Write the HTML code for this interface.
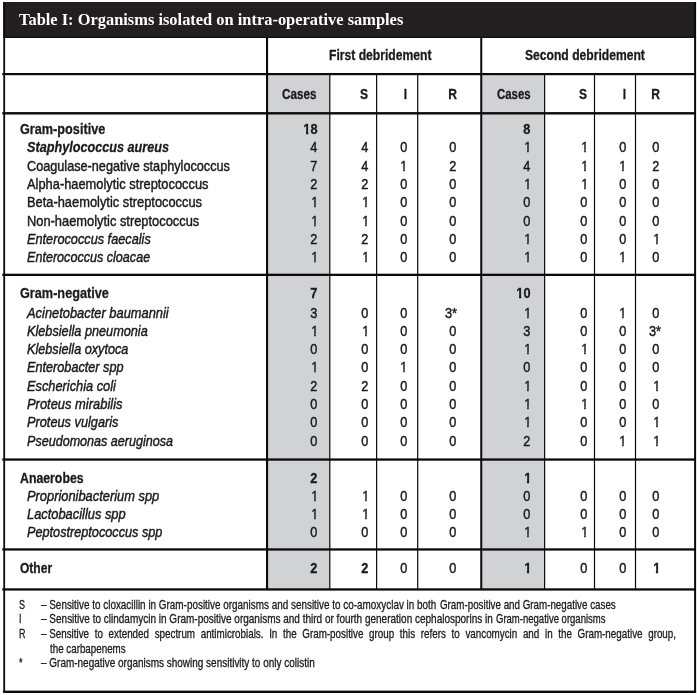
<!DOCTYPE html>
<html><head><meta charset="utf-8"><title>Table I</title>
<style>
html,body{margin:0;padding:0;background:#fff}
#p{position:relative;width:697px;height:695px;overflow:hidden;background:#fff;font-family:"Liberation Sans",sans-serif;color:#1c191a}
.r{position:absolute}
.t{position:absolute;white-space:pre;display:block;-webkit-text-stroke:0.45px}
.o1,.o1b{display:inline-block;line-height:16px;height:16px;vertical-align:top}
.o1{clip-path:polygon(-1.00px -1.00px,9.23px -1.00px,9.23px 11.00px,5.28px 11.00px,5.28px 17.00px,3.47px 17.00px,3.47px 11.00px,-1.00px 11.00px)}
.o1b{clip-path:polygon(-1.00px -1.00px,9.23px -1.00px,9.23px 11.00px,5.73px 11.00px,5.73px 17.00px,3.20px 17.00px,3.20px 11.00px,-1.00px 11.00px)}
.b{font-weight:bold;-webkit-text-stroke:0.3px}.i{font-style:italic}
.sb{font-family:"Liberation Serif",serif;font-weight:bold;-webkit-text-stroke:0}
</style></head><body><div id="p">
<svg class="r" style="left:0;top:0" width="697" height="695" viewBox="0 0 697 695">
<rect x="3.20" y="2.00" width="692.80" height="35.80" fill="#231f20"/>
<rect x="3.20" y="36.80" width="692.90" height="1.10" fill="#0c0a0b"/>
<rect x="3.30" y="2.00" width="1.80" height="690.50" fill="#0c0a0b"/>
<rect x="694.10" y="2.00" width="2.00" height="690.50" fill="#0c0a0b"/>
<rect x="3.20" y="690.60" width="692.90" height="2.40" fill="#0c0a0b"/>
<rect x="267.00" y="74.00" width="62.60" height="516.00" fill="#d1d2d4"/>
<rect x="482.00" y="74.00" width="62.40" height="516.00" fill="#d1d2d4"/>
<rect x="266.20" y="73.00" width="429.80" height="2.20" fill="#0c0a0b"/>
<rect x="2.30" y="112.10" width="693.70" height="2.40" fill="#0c0a0b"/>
<rect x="2.30" y="273.70" width="693.70" height="2.30" fill="#0c0a0b"/>
<rect x="2.30" y="458.40" width="693.70" height="2.30" fill="#0c0a0b"/>
<rect x="2.30" y="548.30" width="693.70" height="2.30" fill="#0c0a0b"/>
<rect x="2.30" y="588.30" width="693.70" height="2.30" fill="#0c0a0b"/>
<rect x="2.30" y="73.00" width="265.00" height="2.20" fill="#0c0a0b"/>
<rect x="266.00" y="37.00" width="2.10" height="552.00" fill="#0c0a0b"/>
<rect x="480.25" y="37.00" width="2.00" height="552.00" fill="#0c0a0b"/>
<rect x="329.20" y="74.00" width="1.20" height="515.00" fill="#0c0a0b"/>
<rect x="376.00" y="74.00" width="1.20" height="515.00" fill="#0c0a0b"/>
<rect x="417.10" y="74.00" width="1.20" height="515.00" fill="#0c0a0b"/>
<rect x="544.00" y="74.00" width="1.20" height="515.00" fill="#0c0a0b"/>
<rect x="593.90" y="74.00" width="1.20" height="515.00" fill="#0c0a0b"/>
<rect x="634.90" y="74.00" width="1.20" height="515.00" fill="#0c0a0b"/>
</svg>
<span class="t sb" style="left:19.00px;top:10.00px;font-size:16.6px;line-height:19px;height:19px;color:#fff;transform:scaleX(0.9893);transform-origin:0 0">Table I: Organisms isolated on intra-operative samples</span>
<span class="t b" style="left:329.00px;top:46.00px;font-size:15.1px;line-height:17px;height:17px;transform:scaleX(0.8045);transform-origin:0 0">First debridement</span>
<span class="t b" style="left:524.50px;top:46.00px;font-size:15.1px;line-height:17px;height:17px;transform:scaleX(0.8028);transform-origin:0 0">Second debridement</span>
<span class="t b" style="left:282.40px;top:85.00px;font-size:15.1px;line-height:17px;height:17px;transform:scaleX(0.7731);transform-origin:0 0">Cases</span>
<span class="t b" style="left:496.70px;top:85.00px;font-size:15.1px;line-height:17px;height:17px;transform:scaleX(0.7551);transform-origin:0 0">Cases</span>
<span class="t b" style="right:328.60px;top:85.00px;font-size:15.1px;line-height:17px;height:17px;transform:scaleX(0.8000);transform-origin:100% 0">S</span>
<span class="t b" style="right:289.80px;top:85.00px;font-size:15.1px;line-height:17px;height:17px;transform:scaleX(0.8000);transform-origin:100% 0">I</span>
<span class="t b" style="right:240.50px;top:85.00px;font-size:15.1px;line-height:17px;height:17px;transform:scaleX(0.8000);transform-origin:100% 0">R</span>
<span class="t b" style="right:109.60px;top:85.00px;font-size:15.1px;line-height:17px;height:17px;transform:scaleX(0.8000);transform-origin:100% 0">S</span>
<span class="t b" style="right:71.00px;top:85.00px;font-size:15.1px;line-height:17px;height:17px;transform:scaleX(0.8000);transform-origin:100% 0">I</span>
<span class="t b" style="right:37.60px;top:85.00px;font-size:15.1px;line-height:17px;height:17px;transform:scaleX(0.8000);transform-origin:100% 0">R</span>
<span class="t b" style="left:19.70px;top:120.00px;font-size:15.1px;line-height:17px;height:17px;transform:scaleX(0.8401);transform-origin:0 0">Gram-positive</span>
<span class="t b" style="right:379.70px;top:121.00px;font-size:14.8px;line-height:16px;height:16px;transform:scaleX(0.8600);transform-origin:100% 0"><span class="o1b">1</span>8</span>
<span class="t b" style="right:166.50px;top:121.00px;font-size:14.8px;line-height:16px;height:16px;transform:scaleX(0.8600);transform-origin:100% 0">8</span>
<span class="t b i" style="left:27.20px;top:138.00px;font-size:15.1px;line-height:17px;height:17px;transform:scaleX(0.8383);transform-origin:0 0">Staphylococcus aureus</span>
<span class="t" style="right:379.70px;top:139.00px;font-size:14.8px;line-height:16px;height:16px;transform:scaleX(0.8600);transform-origin:100% 0">4</span>
<span class="t" style="right:328.50px;top:139.00px;font-size:14.8px;line-height:16px;height:16px;transform:scaleX(0.8600);transform-origin:100% 0">4</span>
<span class="t" style="right:290.10px;top:139.00px;font-size:14.8px;line-height:16px;height:16px;transform:scaleX(0.8600);transform-origin:100% 0">0</span>
<span class="t" style="right:241.00px;top:139.00px;font-size:14.8px;line-height:16px;height:16px;transform:scaleX(0.8600);transform-origin:100% 0">0</span>
<span class="t" style="right:165.90px;top:139.00px;font-size:14.8px;line-height:16px;height:16px;transform:scaleX(0.8600);transform-origin:100% 0"><span class="o1">1</span></span>
<span class="t" style="right:109.00px;top:139.00px;font-size:14.8px;line-height:16px;height:16px;transform:scaleX(0.8600);transform-origin:100% 0"><span class="o1">1</span></span>
<span class="t" style="right:71.20px;top:139.00px;font-size:14.8px;line-height:16px;height:16px;transform:scaleX(0.8600);transform-origin:100% 0">0</span>
<span class="t" style="right:37.30px;top:139.00px;font-size:14.8px;line-height:16px;height:16px;transform:scaleX(0.8600);transform-origin:100% 0">0</span>
<span class="t" style="left:27.20px;top:157.00px;font-size:15.1px;line-height:17px;height:17px;transform:scaleX(0.8397);transform-origin:0 0">Coagulase-negative staphylococcus</span>
<span class="t" style="right:379.70px;top:158.00px;font-size:14.8px;line-height:16px;height:16px;transform:scaleX(0.8600);transform-origin:100% 0">7</span>
<span class="t" style="right:328.50px;top:158.00px;font-size:14.8px;line-height:16px;height:16px;transform:scaleX(0.8600);transform-origin:100% 0">4</span>
<span class="t" style="right:289.50px;top:158.00px;font-size:14.8px;line-height:16px;height:16px;transform:scaleX(0.8600);transform-origin:100% 0"><span class="o1">1</span></span>
<span class="t" style="right:241.00px;top:158.00px;font-size:14.8px;line-height:16px;height:16px;transform:scaleX(0.8600);transform-origin:100% 0">2</span>
<span class="t" style="right:166.50px;top:158.00px;font-size:14.8px;line-height:16px;height:16px;transform:scaleX(0.8600);transform-origin:100% 0">4</span>
<span class="t" style="right:109.00px;top:158.00px;font-size:14.8px;line-height:16px;height:16px;transform:scaleX(0.8600);transform-origin:100% 0"><span class="o1">1</span></span>
<span class="t" style="right:70.60px;top:158.00px;font-size:14.8px;line-height:16px;height:16px;transform:scaleX(0.8600);transform-origin:100% 0"><span class="o1">1</span></span>
<span class="t" style="right:37.30px;top:158.00px;font-size:14.8px;line-height:16px;height:16px;transform:scaleX(0.8600);transform-origin:100% 0">2</span>
<span class="t" style="left:27.20px;top:175.00px;font-size:15.1px;line-height:17px;height:17px;transform:scaleX(0.8519);transform-origin:0 0">Alpha-haemolytic streptococcus</span>
<span class="t" style="right:379.70px;top:176.00px;font-size:14.8px;line-height:16px;height:16px;transform:scaleX(0.8600);transform-origin:100% 0">2</span>
<span class="t" style="right:328.50px;top:176.00px;font-size:14.8px;line-height:16px;height:16px;transform:scaleX(0.8600);transform-origin:100% 0">2</span>
<span class="t" style="right:290.10px;top:176.00px;font-size:14.8px;line-height:16px;height:16px;transform:scaleX(0.8600);transform-origin:100% 0">0</span>
<span class="t" style="right:241.00px;top:176.00px;font-size:14.8px;line-height:16px;height:16px;transform:scaleX(0.8600);transform-origin:100% 0">0</span>
<span class="t" style="right:165.90px;top:176.00px;font-size:14.8px;line-height:16px;height:16px;transform:scaleX(0.8600);transform-origin:100% 0"><span class="o1">1</span></span>
<span class="t" style="right:109.00px;top:176.00px;font-size:14.8px;line-height:16px;height:16px;transform:scaleX(0.8600);transform-origin:100% 0"><span class="o1">1</span></span>
<span class="t" style="right:71.20px;top:176.00px;font-size:14.8px;line-height:16px;height:16px;transform:scaleX(0.8600);transform-origin:100% 0">0</span>
<span class="t" style="right:37.30px;top:176.00px;font-size:14.8px;line-height:16px;height:16px;transform:scaleX(0.8600);transform-origin:100% 0">0</span>
<span class="t" style="left:27.20px;top:193.00px;font-size:15.1px;line-height:17px;height:17px;transform:scaleX(0.8516);transform-origin:0 0">Beta-haemolytic streptococcus</span>
<span class="t" style="right:379.10px;top:194.00px;font-size:14.8px;line-height:16px;height:16px;transform:scaleX(0.8600);transform-origin:100% 0"><span class="o1">1</span></span>
<span class="t" style="right:327.90px;top:194.00px;font-size:14.8px;line-height:16px;height:16px;transform:scaleX(0.8600);transform-origin:100% 0"><span class="o1">1</span></span>
<span class="t" style="right:290.10px;top:194.00px;font-size:14.8px;line-height:16px;height:16px;transform:scaleX(0.8600);transform-origin:100% 0">0</span>
<span class="t" style="right:241.00px;top:194.00px;font-size:14.8px;line-height:16px;height:16px;transform:scaleX(0.8600);transform-origin:100% 0">0</span>
<span class="t" style="right:166.50px;top:194.00px;font-size:14.8px;line-height:16px;height:16px;transform:scaleX(0.8600);transform-origin:100% 0">0</span>
<span class="t" style="right:109.60px;top:194.00px;font-size:14.8px;line-height:16px;height:16px;transform:scaleX(0.8600);transform-origin:100% 0">0</span>
<span class="t" style="right:71.20px;top:194.00px;font-size:14.8px;line-height:16px;height:16px;transform:scaleX(0.8600);transform-origin:100% 0">0</span>
<span class="t" style="right:37.30px;top:194.00px;font-size:14.8px;line-height:16px;height:16px;transform:scaleX(0.8600);transform-origin:100% 0">0</span>
<span class="t" style="left:27.20px;top:212.00px;font-size:15.1px;line-height:17px;height:17px;transform:scaleX(0.8519);transform-origin:0 0">Non-haemolytic streptococcus</span>
<span class="t" style="right:379.10px;top:213.00px;font-size:14.8px;line-height:16px;height:16px;transform:scaleX(0.8600);transform-origin:100% 0"><span class="o1">1</span></span>
<span class="t" style="right:327.90px;top:213.00px;font-size:14.8px;line-height:16px;height:16px;transform:scaleX(0.8600);transform-origin:100% 0"><span class="o1">1</span></span>
<span class="t" style="right:290.10px;top:213.00px;font-size:14.8px;line-height:16px;height:16px;transform:scaleX(0.8600);transform-origin:100% 0">0</span>
<span class="t" style="right:241.00px;top:213.00px;font-size:14.8px;line-height:16px;height:16px;transform:scaleX(0.8600);transform-origin:100% 0">0</span>
<span class="t" style="right:166.50px;top:213.00px;font-size:14.8px;line-height:16px;height:16px;transform:scaleX(0.8600);transform-origin:100% 0">0</span>
<span class="t" style="right:109.60px;top:213.00px;font-size:14.8px;line-height:16px;height:16px;transform:scaleX(0.8600);transform-origin:100% 0">0</span>
<span class="t" style="right:71.20px;top:213.00px;font-size:14.8px;line-height:16px;height:16px;transform:scaleX(0.8600);transform-origin:100% 0">0</span>
<span class="t" style="right:37.30px;top:213.00px;font-size:14.8px;line-height:16px;height:16px;transform:scaleX(0.8600);transform-origin:100% 0">0</span>
<span class="t i" style="left:27.20px;top:230.00px;font-size:15.1px;line-height:17px;height:17px;transform:scaleX(0.8428);transform-origin:0 0">Enterococcus faecalis</span>
<span class="t" style="right:379.70px;top:231.00px;font-size:14.8px;line-height:16px;height:16px;transform:scaleX(0.8600);transform-origin:100% 0">2</span>
<span class="t" style="right:328.50px;top:231.00px;font-size:14.8px;line-height:16px;height:16px;transform:scaleX(0.8600);transform-origin:100% 0">2</span>
<span class="t" style="right:290.10px;top:231.00px;font-size:14.8px;line-height:16px;height:16px;transform:scaleX(0.8600);transform-origin:100% 0">0</span>
<span class="t" style="right:241.00px;top:231.00px;font-size:14.8px;line-height:16px;height:16px;transform:scaleX(0.8600);transform-origin:100% 0">0</span>
<span class="t" style="right:165.90px;top:231.00px;font-size:14.8px;line-height:16px;height:16px;transform:scaleX(0.8600);transform-origin:100% 0"><span class="o1">1</span></span>
<span class="t" style="right:109.60px;top:231.00px;font-size:14.8px;line-height:16px;height:16px;transform:scaleX(0.8600);transform-origin:100% 0">0</span>
<span class="t" style="right:71.20px;top:231.00px;font-size:14.8px;line-height:16px;height:16px;transform:scaleX(0.8600);transform-origin:100% 0">0</span>
<span class="t" style="right:36.70px;top:231.00px;font-size:14.8px;line-height:16px;height:16px;transform:scaleX(0.8600);transform-origin:100% 0"><span class="o1">1</span></span>
<span class="t i" style="left:27.20px;top:248.00px;font-size:15.1px;line-height:17px;height:17px;transform:scaleX(0.8339);transform-origin:0 0">Enterococcus cloacae</span>
<span class="t" style="right:379.10px;top:249.00px;font-size:14.8px;line-height:16px;height:16px;transform:scaleX(0.8600);transform-origin:100% 0"><span class="o1">1</span></span>
<span class="t" style="right:327.90px;top:249.00px;font-size:14.8px;line-height:16px;height:16px;transform:scaleX(0.8600);transform-origin:100% 0"><span class="o1">1</span></span>
<span class="t" style="right:290.10px;top:249.00px;font-size:14.8px;line-height:16px;height:16px;transform:scaleX(0.8600);transform-origin:100% 0">0</span>
<span class="t" style="right:241.00px;top:249.00px;font-size:14.8px;line-height:16px;height:16px;transform:scaleX(0.8600);transform-origin:100% 0">0</span>
<span class="t" style="right:165.90px;top:249.00px;font-size:14.8px;line-height:16px;height:16px;transform:scaleX(0.8600);transform-origin:100% 0"><span class="o1">1</span></span>
<span class="t" style="right:109.60px;top:249.00px;font-size:14.8px;line-height:16px;height:16px;transform:scaleX(0.8600);transform-origin:100% 0">0</span>
<span class="t" style="right:70.60px;top:249.00px;font-size:14.8px;line-height:16px;height:16px;transform:scaleX(0.8600);transform-origin:100% 0"><span class="o1">1</span></span>
<span class="t" style="right:37.30px;top:249.00px;font-size:14.8px;line-height:16px;height:16px;transform:scaleX(0.8600);transform-origin:100% 0">0</span>
<span class="t b" style="left:19.70px;top:284.00px;font-size:15.1px;line-height:17px;height:17px;transform:scaleX(0.8407);transform-origin:0 0">Gram-negative</span>
<span class="t b" style="right:379.70px;top:285.00px;font-size:14.8px;line-height:16px;height:16px;transform:scaleX(0.8600);transform-origin:100% 0">7</span>
<span class="t b" style="right:166.50px;top:285.00px;font-size:14.8px;line-height:16px;height:16px;transform:scaleX(0.8600);transform-origin:100% 0"><span class="o1b">1</span>0</span>
<span class="t i" style="left:27.20px;top:304.00px;font-size:15.1px;line-height:17px;height:17px;transform:scaleX(0.8531);transform-origin:0 0">Acinetobacter baumannii</span>
<span class="t" style="right:379.70px;top:305.00px;font-size:14.8px;line-height:16px;height:16px;transform:scaleX(0.8600);transform-origin:100% 0">3</span>
<span class="t" style="right:328.50px;top:305.00px;font-size:14.8px;line-height:16px;height:16px;transform:scaleX(0.8600);transform-origin:100% 0">0</span>
<span class="t" style="right:290.10px;top:305.00px;font-size:14.8px;line-height:16px;height:16px;transform:scaleX(0.8600);transform-origin:100% 0">0</span>
<span class="t" style="right:240.00px;top:305.00px;font-size:14.8px;line-height:16px;height:16px;transform:scaleX(0.8600);transform-origin:100% 0">3*</span>
<span class="t" style="right:165.90px;top:305.00px;font-size:14.8px;line-height:16px;height:16px;transform:scaleX(0.8600);transform-origin:100% 0"><span class="o1">1</span></span>
<span class="t" style="right:109.60px;top:305.00px;font-size:14.8px;line-height:16px;height:16px;transform:scaleX(0.8600);transform-origin:100% 0">0</span>
<span class="t" style="right:70.60px;top:305.00px;font-size:14.8px;line-height:16px;height:16px;transform:scaleX(0.8600);transform-origin:100% 0"><span class="o1">1</span></span>
<span class="t" style="right:37.30px;top:305.00px;font-size:14.8px;line-height:16px;height:16px;transform:scaleX(0.8600);transform-origin:100% 0">0</span>
<span class="t i" style="left:27.20px;top:322.00px;font-size:15.1px;line-height:17px;height:17px;transform:scaleX(0.8415);transform-origin:0 0">Klebsiella pneumonia</span>
<span class="t" style="right:379.10px;top:323.00px;font-size:14.8px;line-height:16px;height:16px;transform:scaleX(0.8600);transform-origin:100% 0"><span class="o1">1</span></span>
<span class="t" style="right:327.90px;top:323.00px;font-size:14.8px;line-height:16px;height:16px;transform:scaleX(0.8600);transform-origin:100% 0"><span class="o1">1</span></span>
<span class="t" style="right:290.10px;top:323.00px;font-size:14.8px;line-height:16px;height:16px;transform:scaleX(0.8600);transform-origin:100% 0">0</span>
<span class="t" style="right:241.00px;top:323.00px;font-size:14.8px;line-height:16px;height:16px;transform:scaleX(0.8600);transform-origin:100% 0">0</span>
<span class="t" style="right:166.50px;top:323.00px;font-size:14.8px;line-height:16px;height:16px;transform:scaleX(0.8600);transform-origin:100% 0">3</span>
<span class="t" style="right:109.60px;top:323.00px;font-size:14.8px;line-height:16px;height:16px;transform:scaleX(0.8600);transform-origin:100% 0">0</span>
<span class="t" style="right:71.20px;top:323.00px;font-size:14.8px;line-height:16px;height:16px;transform:scaleX(0.8600);transform-origin:100% 0">0</span>
<span class="t" style="right:36.30px;top:323.00px;font-size:14.8px;line-height:16px;height:16px;transform:scaleX(0.8600);transform-origin:100% 0">3*</span>
<span class="t i" style="left:27.20px;top:340.00px;font-size:15.1px;line-height:17px;height:17px;transform:scaleX(0.8389);transform-origin:0 0">Klebsiella oxytoca</span>
<span class="t" style="right:379.70px;top:341.00px;font-size:14.8px;line-height:16px;height:16px;transform:scaleX(0.8600);transform-origin:100% 0">0</span>
<span class="t" style="right:328.50px;top:341.00px;font-size:14.8px;line-height:16px;height:16px;transform:scaleX(0.8600);transform-origin:100% 0">0</span>
<span class="t" style="right:290.10px;top:341.00px;font-size:14.8px;line-height:16px;height:16px;transform:scaleX(0.8600);transform-origin:100% 0">0</span>
<span class="t" style="right:241.00px;top:341.00px;font-size:14.8px;line-height:16px;height:16px;transform:scaleX(0.8600);transform-origin:100% 0">0</span>
<span class="t" style="right:165.90px;top:341.00px;font-size:14.8px;line-height:16px;height:16px;transform:scaleX(0.8600);transform-origin:100% 0"><span class="o1">1</span></span>
<span class="t" style="right:109.00px;top:341.00px;font-size:14.8px;line-height:16px;height:16px;transform:scaleX(0.8600);transform-origin:100% 0"><span class="o1">1</span></span>
<span class="t" style="right:71.20px;top:341.00px;font-size:14.8px;line-height:16px;height:16px;transform:scaleX(0.8600);transform-origin:100% 0">0</span>
<span class="t" style="right:37.30px;top:341.00px;font-size:14.8px;line-height:16px;height:16px;transform:scaleX(0.8600);transform-origin:100% 0">0</span>
<span class="t i" style="left:27.20px;top:358.00px;font-size:15.1px;line-height:17px;height:17px;transform:scaleX(0.8400);transform-origin:0 0">Enterobacter spp</span>
<span class="t" style="right:379.10px;top:359.00px;font-size:14.8px;line-height:16px;height:16px;transform:scaleX(0.8600);transform-origin:100% 0"><span class="o1">1</span></span>
<span class="t" style="right:328.50px;top:359.00px;font-size:14.8px;line-height:16px;height:16px;transform:scaleX(0.8600);transform-origin:100% 0">0</span>
<span class="t" style="right:289.50px;top:359.00px;font-size:14.8px;line-height:16px;height:16px;transform:scaleX(0.8600);transform-origin:100% 0"><span class="o1">1</span></span>
<span class="t" style="right:241.00px;top:359.00px;font-size:14.8px;line-height:16px;height:16px;transform:scaleX(0.8600);transform-origin:100% 0">0</span>
<span class="t" style="right:166.50px;top:359.00px;font-size:14.8px;line-height:16px;height:16px;transform:scaleX(0.8600);transform-origin:100% 0">0</span>
<span class="t" style="right:109.60px;top:359.00px;font-size:14.8px;line-height:16px;height:16px;transform:scaleX(0.8600);transform-origin:100% 0">0</span>
<span class="t" style="right:71.20px;top:359.00px;font-size:14.8px;line-height:16px;height:16px;transform:scaleX(0.8600);transform-origin:100% 0">0</span>
<span class="t" style="right:37.30px;top:359.00px;font-size:14.8px;line-height:16px;height:16px;transform:scaleX(0.8600);transform-origin:100% 0">0</span>
<span class="t i" style="left:27.20px;top:377.00px;font-size:15.1px;line-height:17px;height:17px;transform:scaleX(0.8474);transform-origin:0 0">Escherichia coli</span>
<span class="t" style="right:379.70px;top:378.00px;font-size:14.8px;line-height:16px;height:16px;transform:scaleX(0.8600);transform-origin:100% 0">2</span>
<span class="t" style="right:328.50px;top:378.00px;font-size:14.8px;line-height:16px;height:16px;transform:scaleX(0.8600);transform-origin:100% 0">2</span>
<span class="t" style="right:290.10px;top:378.00px;font-size:14.8px;line-height:16px;height:16px;transform:scaleX(0.8600);transform-origin:100% 0">0</span>
<span class="t" style="right:241.00px;top:378.00px;font-size:14.8px;line-height:16px;height:16px;transform:scaleX(0.8600);transform-origin:100% 0">0</span>
<span class="t" style="right:165.90px;top:378.00px;font-size:14.8px;line-height:16px;height:16px;transform:scaleX(0.8600);transform-origin:100% 0"><span class="o1">1</span></span>
<span class="t" style="right:109.60px;top:378.00px;font-size:14.8px;line-height:16px;height:16px;transform:scaleX(0.8600);transform-origin:100% 0">0</span>
<span class="t" style="right:71.20px;top:378.00px;font-size:14.8px;line-height:16px;height:16px;transform:scaleX(0.8600);transform-origin:100% 0">0</span>
<span class="t" style="right:36.70px;top:378.00px;font-size:14.8px;line-height:16px;height:16px;transform:scaleX(0.8600);transform-origin:100% 0"><span class="o1">1</span></span>
<span class="t i" style="left:27.20px;top:395.00px;font-size:15.1px;line-height:17px;height:17px;transform:scaleX(0.8557);transform-origin:0 0">Proteus mirabilis</span>
<span class="t" style="right:379.70px;top:396.00px;font-size:14.8px;line-height:16px;height:16px;transform:scaleX(0.8600);transform-origin:100% 0">0</span>
<span class="t" style="right:328.50px;top:396.00px;font-size:14.8px;line-height:16px;height:16px;transform:scaleX(0.8600);transform-origin:100% 0">0</span>
<span class="t" style="right:290.10px;top:396.00px;font-size:14.8px;line-height:16px;height:16px;transform:scaleX(0.8600);transform-origin:100% 0">0</span>
<span class="t" style="right:241.00px;top:396.00px;font-size:14.8px;line-height:16px;height:16px;transform:scaleX(0.8600);transform-origin:100% 0">0</span>
<span class="t" style="right:165.90px;top:396.00px;font-size:14.8px;line-height:16px;height:16px;transform:scaleX(0.8600);transform-origin:100% 0"><span class="o1">1</span></span>
<span class="t" style="right:109.00px;top:396.00px;font-size:14.8px;line-height:16px;height:16px;transform:scaleX(0.8600);transform-origin:100% 0"><span class="o1">1</span></span>
<span class="t" style="right:71.20px;top:396.00px;font-size:14.8px;line-height:16px;height:16px;transform:scaleX(0.8600);transform-origin:100% 0">0</span>
<span class="t" style="right:37.30px;top:396.00px;font-size:14.8px;line-height:16px;height:16px;transform:scaleX(0.8600);transform-origin:100% 0">0</span>
<span class="t i" style="left:27.20px;top:413.00px;font-size:15.1px;line-height:17px;height:17px;transform:scaleX(0.8451);transform-origin:0 0">Proteus vulgaris</span>
<span class="t" style="right:379.70px;top:414.00px;font-size:14.8px;line-height:16px;height:16px;transform:scaleX(0.8600);transform-origin:100% 0">0</span>
<span class="t" style="right:328.50px;top:414.00px;font-size:14.8px;line-height:16px;height:16px;transform:scaleX(0.8600);transform-origin:100% 0">0</span>
<span class="t" style="right:290.10px;top:414.00px;font-size:14.8px;line-height:16px;height:16px;transform:scaleX(0.8600);transform-origin:100% 0">0</span>
<span class="t" style="right:241.00px;top:414.00px;font-size:14.8px;line-height:16px;height:16px;transform:scaleX(0.8600);transform-origin:100% 0">0</span>
<span class="t" style="right:165.90px;top:414.00px;font-size:14.8px;line-height:16px;height:16px;transform:scaleX(0.8600);transform-origin:100% 0"><span class="o1">1</span></span>
<span class="t" style="right:109.60px;top:414.00px;font-size:14.8px;line-height:16px;height:16px;transform:scaleX(0.8600);transform-origin:100% 0">0</span>
<span class="t" style="right:71.20px;top:414.00px;font-size:14.8px;line-height:16px;height:16px;transform:scaleX(0.8600);transform-origin:100% 0">0</span>
<span class="t" style="right:36.70px;top:414.00px;font-size:14.8px;line-height:16px;height:16px;transform:scaleX(0.8600);transform-origin:100% 0"><span class="o1">1</span></span>
<span class="t i" style="left:27.20px;top:432.00px;font-size:15.1px;line-height:17px;height:17px;transform:scaleX(0.8327);transform-origin:0 0">Pseudomonas aeruginosa</span>
<span class="t" style="right:379.70px;top:433.00px;font-size:14.8px;line-height:16px;height:16px;transform:scaleX(0.8600);transform-origin:100% 0">0</span>
<span class="t" style="right:328.50px;top:433.00px;font-size:14.8px;line-height:16px;height:16px;transform:scaleX(0.8600);transform-origin:100% 0">0</span>
<span class="t" style="right:290.10px;top:433.00px;font-size:14.8px;line-height:16px;height:16px;transform:scaleX(0.8600);transform-origin:100% 0">0</span>
<span class="t" style="right:241.00px;top:433.00px;font-size:14.8px;line-height:16px;height:16px;transform:scaleX(0.8600);transform-origin:100% 0">0</span>
<span class="t" style="right:166.50px;top:433.00px;font-size:14.8px;line-height:16px;height:16px;transform:scaleX(0.8600);transform-origin:100% 0">2</span>
<span class="t" style="right:109.60px;top:433.00px;font-size:14.8px;line-height:16px;height:16px;transform:scaleX(0.8600);transform-origin:100% 0">0</span>
<span class="t" style="right:70.60px;top:433.00px;font-size:14.8px;line-height:16px;height:16px;transform:scaleX(0.8600);transform-origin:100% 0"><span class="o1">1</span></span>
<span class="t" style="right:36.70px;top:433.00px;font-size:14.8px;line-height:16px;height:16px;transform:scaleX(0.8600);transform-origin:100% 0"><span class="o1">1</span></span>
<span class="t b" style="left:19.70px;top:469.00px;font-size:15.1px;line-height:17px;height:17px;transform:scaleX(0.8149);transform-origin:0 0">Anaerobes</span>
<span class="t b" style="right:379.70px;top:470.00px;font-size:14.8px;line-height:16px;height:16px;transform:scaleX(0.8600);transform-origin:100% 0">2</span>
<span class="t b" style="right:165.90px;top:470.00px;font-size:14.8px;line-height:16px;height:16px;transform:scaleX(0.8600);transform-origin:100% 0"><span class="o1b">1</span></span>
<span class="t i" style="left:27.20px;top:487.00px;font-size:15.1px;line-height:17px;height:17px;transform:scaleX(0.8520);transform-origin:0 0">Proprionibacterium spp</span>
<span class="t" style="right:379.10px;top:488.00px;font-size:14.8px;line-height:16px;height:16px;transform:scaleX(0.8600);transform-origin:100% 0"><span class="o1">1</span></span>
<span class="t" style="right:327.90px;top:488.00px;font-size:14.8px;line-height:16px;height:16px;transform:scaleX(0.8600);transform-origin:100% 0"><span class="o1">1</span></span>
<span class="t" style="right:290.10px;top:488.00px;font-size:14.8px;line-height:16px;height:16px;transform:scaleX(0.8600);transform-origin:100% 0">0</span>
<span class="t" style="right:241.00px;top:488.00px;font-size:14.8px;line-height:16px;height:16px;transform:scaleX(0.8600);transform-origin:100% 0">0</span>
<span class="t" style="right:166.50px;top:488.00px;font-size:14.8px;line-height:16px;height:16px;transform:scaleX(0.8600);transform-origin:100% 0">0</span>
<span class="t" style="right:109.60px;top:488.00px;font-size:14.8px;line-height:16px;height:16px;transform:scaleX(0.8600);transform-origin:100% 0">0</span>
<span class="t" style="right:71.20px;top:488.00px;font-size:14.8px;line-height:16px;height:16px;transform:scaleX(0.8600);transform-origin:100% 0">0</span>
<span class="t" style="right:37.30px;top:488.00px;font-size:14.8px;line-height:16px;height:16px;transform:scaleX(0.8600);transform-origin:100% 0">0</span>
<span class="t i" style="left:27.20px;top:505.00px;font-size:15.1px;line-height:17px;height:17px;transform:scaleX(0.8520);transform-origin:0 0">Lactobacillus spp</span>
<span class="t" style="right:379.10px;top:506.00px;font-size:14.8px;line-height:16px;height:16px;transform:scaleX(0.8600);transform-origin:100% 0"><span class="o1">1</span></span>
<span class="t" style="right:327.90px;top:506.00px;font-size:14.8px;line-height:16px;height:16px;transform:scaleX(0.8600);transform-origin:100% 0"><span class="o1">1</span></span>
<span class="t" style="right:290.10px;top:506.00px;font-size:14.8px;line-height:16px;height:16px;transform:scaleX(0.8600);transform-origin:100% 0">0</span>
<span class="t" style="right:241.00px;top:506.00px;font-size:14.8px;line-height:16px;height:16px;transform:scaleX(0.8600);transform-origin:100% 0">0</span>
<span class="t" style="right:166.50px;top:506.00px;font-size:14.8px;line-height:16px;height:16px;transform:scaleX(0.8600);transform-origin:100% 0">0</span>
<span class="t" style="right:109.60px;top:506.00px;font-size:14.8px;line-height:16px;height:16px;transform:scaleX(0.8600);transform-origin:100% 0">0</span>
<span class="t" style="right:71.20px;top:506.00px;font-size:14.8px;line-height:16px;height:16px;transform:scaleX(0.8600);transform-origin:100% 0">0</span>
<span class="t" style="right:37.30px;top:506.00px;font-size:14.8px;line-height:16px;height:16px;transform:scaleX(0.8600);transform-origin:100% 0">0</span>
<span class="t i" style="left:27.20px;top:523.00px;font-size:15.1px;line-height:17px;height:17px;transform:scaleX(0.8401);transform-origin:0 0">Peptostreptococcus spp</span>
<span class="t" style="right:379.70px;top:524.00px;font-size:14.8px;line-height:16px;height:16px;transform:scaleX(0.8600);transform-origin:100% 0">0</span>
<span class="t" style="right:328.50px;top:524.00px;font-size:14.8px;line-height:16px;height:16px;transform:scaleX(0.8600);transform-origin:100% 0">0</span>
<span class="t" style="right:290.10px;top:524.00px;font-size:14.8px;line-height:16px;height:16px;transform:scaleX(0.8600);transform-origin:100% 0">0</span>
<span class="t" style="right:241.00px;top:524.00px;font-size:14.8px;line-height:16px;height:16px;transform:scaleX(0.8600);transform-origin:100% 0">0</span>
<span class="t" style="right:165.90px;top:524.00px;font-size:14.8px;line-height:16px;height:16px;transform:scaleX(0.8600);transform-origin:100% 0"><span class="o1">1</span></span>
<span class="t" style="right:109.00px;top:524.00px;font-size:14.8px;line-height:16px;height:16px;transform:scaleX(0.8600);transform-origin:100% 0"><span class="o1">1</span></span>
<span class="t" style="right:71.20px;top:524.00px;font-size:14.8px;line-height:16px;height:16px;transform:scaleX(0.8600);transform-origin:100% 0">0</span>
<span class="t" style="right:37.30px;top:524.00px;font-size:14.8px;line-height:16px;height:16px;transform:scaleX(0.8600);transform-origin:100% 0">0</span>
<span class="t b" style="left:19.70px;top:559.00px;font-size:15.1px;line-height:17px;height:17px;transform:scaleX(0.7971);transform-origin:0 0">Other</span>
<span class="t b" style="right:379.70px;top:560.00px;font-size:14.8px;line-height:16px;height:16px;transform:scaleX(0.8600);transform-origin:100% 0">2</span>
<span class="t b" style="right:328.50px;top:560.00px;font-size:14.8px;line-height:16px;height:16px;transform:scaleX(0.8600);transform-origin:100% 0">2</span>
<span class="t" style="right:290.10px;top:560.00px;font-size:14.8px;line-height:16px;height:16px;transform:scaleX(0.8600);transform-origin:100% 0">0</span>
<span class="t" style="right:241.00px;top:560.00px;font-size:14.8px;line-height:16px;height:16px;transform:scaleX(0.8600);transform-origin:100% 0">0</span>
<span class="t b" style="right:165.90px;top:560.00px;font-size:14.8px;line-height:16px;height:16px;transform:scaleX(0.8600);transform-origin:100% 0"><span class="o1b">1</span></span>
<span class="t" style="right:109.60px;top:560.00px;font-size:14.8px;line-height:16px;height:16px;transform:scaleX(0.8600);transform-origin:100% 0">0</span>
<span class="t" style="right:71.20px;top:560.00px;font-size:14.8px;line-height:16px;height:16px;transform:scaleX(0.8600);transform-origin:100% 0">0</span>
<span class="t b" style="right:36.70px;top:560.00px;font-size:14.8px;line-height:16px;height:16px;transform:scaleX(0.8600);transform-origin:100% 0"><span class="o1b">1</span></span>
<span class="t" style="left:19.30px;top:598.00px;font-size:12.2px;line-height:14px;height:14px;-webkit-text-stroke:0.3px;transform:scaleX(0.7400);transform-origin:0 0">S</span>
<span class="t" style="left:41.00px;top:598.00px;font-size:12.2px;line-height:14px;height:14px;-webkit-text-stroke:0.3px;transform:scaleX(0.8129);transform-origin:0 0">– Sensitive to cloxacillin in Gram-positive organisms and sensitive to co-amoxyclav in both </span>
<span class="t" style="left:439.50px;top:598.00px;font-size:12.2px;line-height:14px;height:14px;-webkit-text-stroke:0.3px;transform:scaleX(0.8032);transform-origin:0 0">Gram-positive and Gram-negative cases</span>
<span class="t" style="left:19.30px;top:612.00px;font-size:12.2px;line-height:14px;height:14px;-webkit-text-stroke:0.3px;transform:scaleX(0.7400);transform-origin:0 0">I</span>
<span class="t" style="left:41.00px;top:612.00px;font-size:12.2px;line-height:14px;height:14px;-webkit-text-stroke:0.3px;transform:scaleX(0.8203);transform-origin:0 0">– Sensitive to clindamycin in Gram-positive organisms and third or fourth generation cephalosporins in </span>
<span class="t" style="left:496.00px;top:612.00px;font-size:12.2px;line-height:14px;height:14px;-webkit-text-stroke:0.3px;transform:scaleX(0.7809);transform-origin:0 0">Gram-negative organisms</span>
<span class="t" style="left:19.30px;top:627.00px;font-size:12.2px;line-height:14px;height:14px;-webkit-text-stroke:0.3px;transform:scaleX(0.7400);transform-origin:0 0">R</span>
<span class="t" style="left:49.90px;top:642.00px;font-size:12.2px;line-height:14px;height:14px;-webkit-text-stroke:0.3px;transform:scaleX(0.8031);transform-origin:0 0">the carbapenems</span>
<span class="t" style="left:19.30px;top:656.00px;font-size:12.2px;line-height:14px;height:14px;-webkit-text-stroke:0.3px;transform:scaleX(0.7400);transform-origin:0 0">*</span>
<span class="t" style="left:41.00px;top:656.00px;font-size:12.2px;line-height:14px;height:14px;-webkit-text-stroke:0.3px;transform:scaleX(0.8180);transform-origin:0 0">– Gram-negative organisms showing sensitivity to only colistin</span>
<span class="t" style="left:41px;top:627px;font-size:12.2px;line-height:14px;height:14px;-webkit-text-stroke:0.3px;transform:scaleX(0.8064);transform-origin:0 0">– <span style="word-spacing:3.606px">Sensitive to extended spectrum antimicrobials. In the Gram-positive group this refers to vancomycin and in the Gram-negative group,</span></span>
</div></body></html>
